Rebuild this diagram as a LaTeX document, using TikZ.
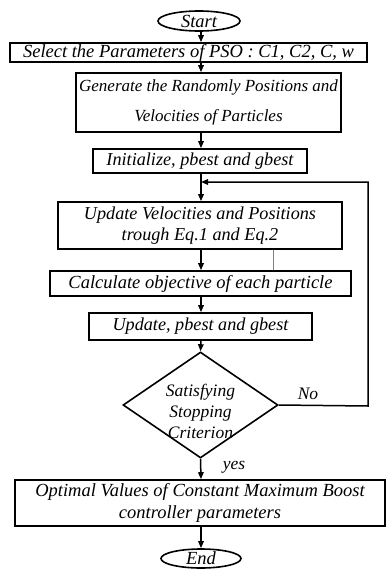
\documentclass[tikz,border=0pt]{standalone}
\usepackage{fontspec}
\setmainfont{Liberation Serif}
\usetikzlibrary{arrows.meta,shapes.geometric}
\begin{document}
\begin{tikzpicture}[x=1pt,y=-1pt,
  every node/.style={font=\fontsize{18.5}{21.5}\selectfont\itshape, inner sep=0pt, align=center},
  box/.style={draw, line width=1.6pt, rectangle},
  term/.style={draw, line width=1.6pt, ellipse},
  dec/.style={draw, line width=1.6pt, diamond, aspect=1.46},
  arr/.style={line width=1.5pt, -{Triangle[length=7pt,width=5.5pt]}},
  small/.style={font=\fontsize{17.5}{21}\selectfont\itshape},
  mid/.style={font=\fontsize{18.2}{21.5}\selectfont\itshape}
]
\useasboundingbox (0,0) rectangle (386,570);
\node[term, minimum width=82pt, minimum height=20pt] (start) at (199,21) {Start};
\node[box, minimum width=357pt, minimum height=19pt] (b1) at (188.5,52.5) {Select the Parameters of PSO : C1, C2, C, w};
\node[box, minimum width=265pt, minimum height=59pt, font=\fontsize{17}{20}\selectfont\itshape] (b2) at (208.5,102.5) {Generate the Randomly Positions and\\[10pt]Velocities of Particles};
\node[box, mid, minimum width=214pt, minimum height=24pt] (b3) at (200,161) {Initialize, pbest and gbest};
\node[box, mid, minimum width=284pt, minimum height=47pt] (b4) at (200,225.5) {Update Velocities and Positions\\trough Eq.1 and Eq.2};
\node[box, minimum width=301pt, minimum height=25pt] (b5) at (200.5,283.5) {Calculate objective of each particle};
\node[box, mid, minimum width=223pt, minimum height=27pt] (b6) at (200.5,326.5) {Update, pbest and gbest};
\node[dec, minimum width=155pt, minimum height=106pt] (dia) at (200.5,405) {};
\node[small] (dt) at (200.5,411) {Satisfying\\Stopping\\Criterion};
\node[box, minimum width=370pt, minimum height=46pt] (b7) at (200,503) {Optimal Values of Constant Maximum Boost\\controller parameters};
\node[term, minimum width=80pt, minimum height=19pt] (end) at (201,558.5) {End};
\coordinate (ax) at (201,0);
\coordinate (join) at (201,182);
\coordinate (rc) at (368,406);
\coordinate (gx) at (273,0);
\draw[arr] (start.south -| ax) -- (b1.north -| ax);
\draw[arr] (b1.south -| ax) -- (b2.north -| ax);
\draw[arr] (b2.south -| ax) -- (b3.north -| ax);
\draw[arr] (b3.south -| ax) -- (b4.north -| ax);
\draw[arr, line width=2.2pt] (b4.south -| ax) -- (b5.north -| ax);
\draw[arr] (b5.south -| ax) -- (b6.north -| ax);
\draw[arr] (b6.south -| ax) -- (dia.north);
\draw[arr] (dia.south) -- (b7.north -| ax);
\draw[arr] (b7.south -| ax) -- (end.north -| ax);
\draw[line width=1pt, gray] (b4.south -| gx) -- (b5.north -| gx);
\draw[arr] (dia.east) -- (rc) |- (join);
\node[small] (no) at (308,394) {No};
\node[small] (yes) at (234,467) {yes};
\end{tikzpicture}
\end{document}
